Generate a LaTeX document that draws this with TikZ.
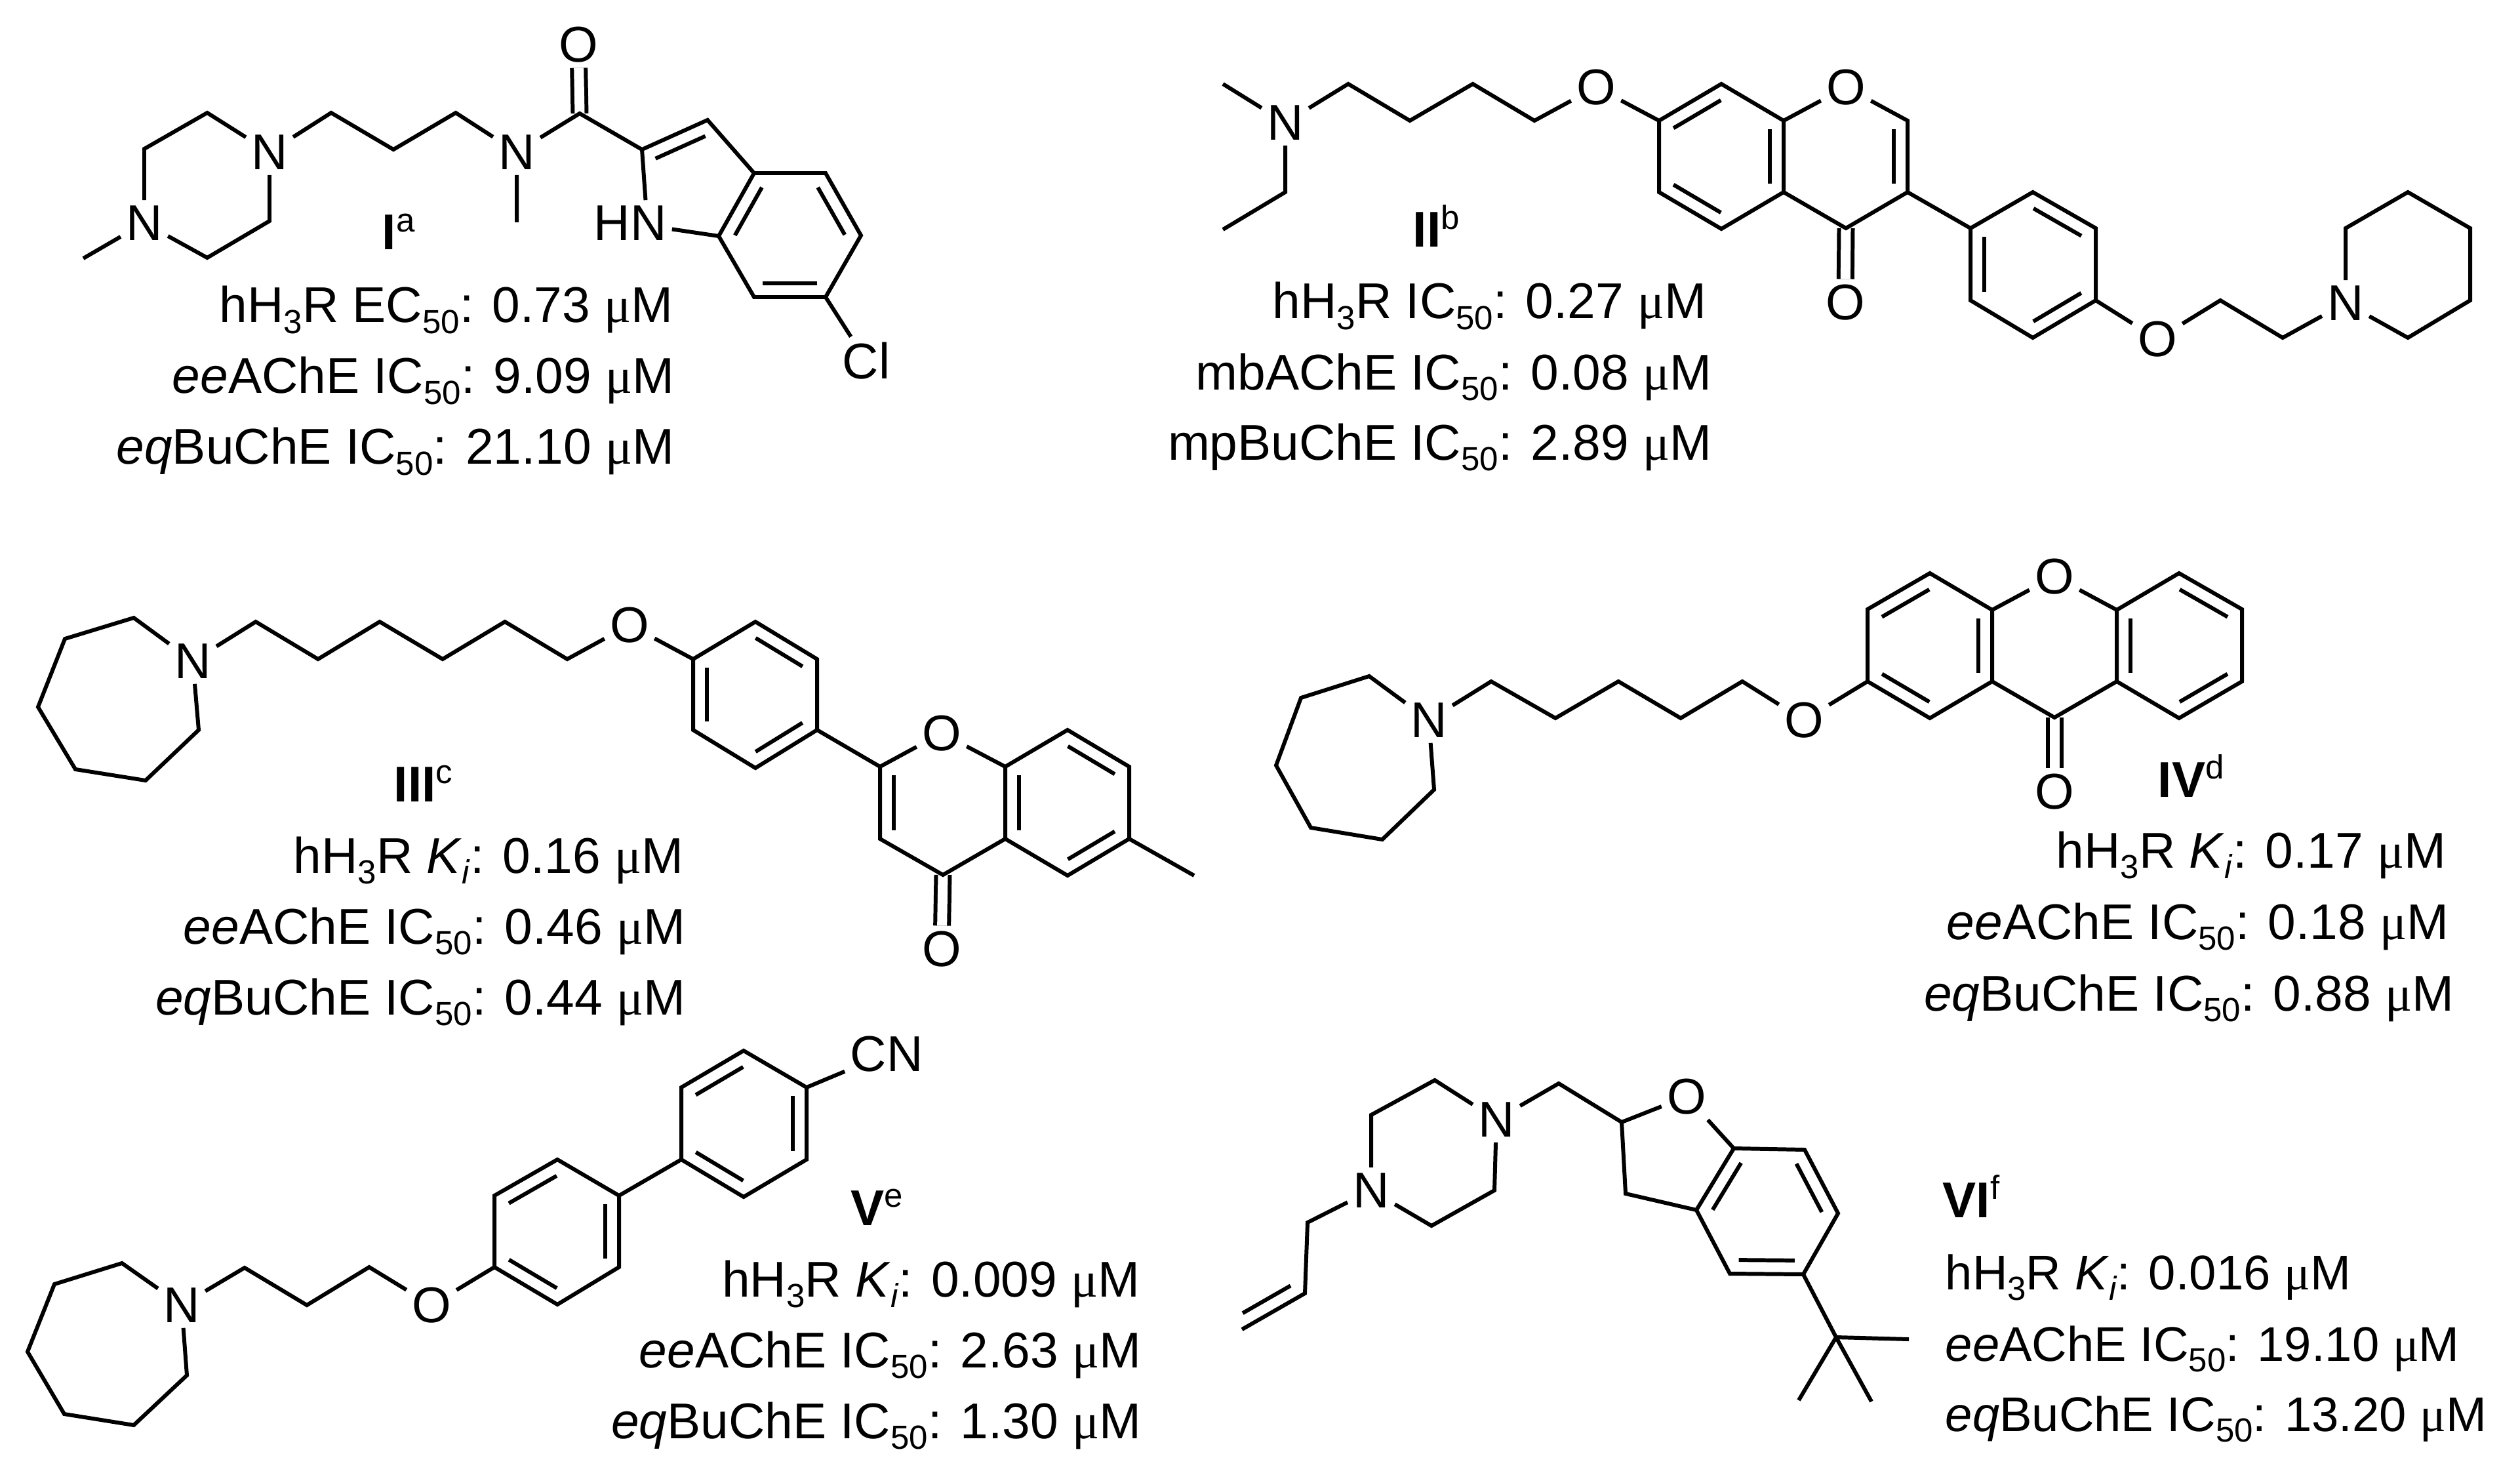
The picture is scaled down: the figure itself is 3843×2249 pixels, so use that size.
\documentclass[tikz,border=0pt]{standalone}
\usepackage{fontspec}
\setmainfont{Liberation Sans}
\newfontfamily\mufont{Liberation Serif}
\usetikzlibrary{calc}

\newcommand{\sbs}[1]{\raisebox{-.22em}{\fontsize{14.5}{14.5}\selectfont #1}}
\newcommand{\sps}[1]{\raisebox{.36em}{\fontsize{14.5}{14.5}\selectfont #1}}
\newcommand{\um}{{\mufont μ}M}
\newcommand{\dbond}[2]{\draw[bond] ($(#1)!.12!(#2)!.21cm!90:(#2)$) -- ($(#2)!.12!(#1)!.21cm!-90:(#1)$);}

\tikzset{
  bond/.style={line width=1.7pt},
  keto/.style={line width=1.7pt,double,double distance=.15cm},
  atom/.style={inner sep=2.2pt,font=\fontsize{21.8}{24}\selectfont},
  data/.style={inner sep=0pt,anchor=base east,font=\fontsize{21.8}{24}\selectfont},
  dataleft/.style={inner sep=0pt,anchor=base west,font=\fontsize{21.1}{24}\selectfont},
  tag/.style={inner sep=0pt,anchor=base west,font=\fontsize{21.8}{24}\selectfont}
}

\begin{document}
\begin{tikzpicture}[x=.01cm,y=-.01cm]
  \useasboundingbox (0,0) rectangle (3843,2249);

  % I
  \node[atom] (an1) at (220,340) {N};
  \node[atom] (an2) at (411,232) {N};
  \node[atom] (an3) at (788,232) {N};
  \node[atom] (ao) at (882,68) {O};
  \node[atom] (ahn) at (961,340) {HN};
  \node[atom] (acl) at (1321,550) {Cl};
  \coordinate (am) at (127,394);
  \coordinate (ar1) at (220,227);
  \coordinate (ar2) at (316,172);
  \coordinate (ar3) at (411,337);
  \coordinate (ar4) at (316,393);
  \coordinate (ac1) at (505,172);
  \coordinate (ac2) at (600,228);
  \coordinate (ac3) at (695,172);
  \coordinate (am2) at (788,339);
  \coordinate (aco) at (884,173);
  \coordinate (ac4) at (979,228);
  \coordinate (ac5) at (1079,183);
  \coordinate (ac6) at (1150,264);
  \coordinate (ac7) at (1259,264);
  \coordinate (ac8) at (1313,359);
  \coordinate (ac9) at (1259,453);
  \coordinate (ac10) at (1150,453);
  \coordinate (ac11) at (1096,360);
  \draw[keto] (aco) -- (ao);
  \draw[bond] (am) -- (an1) -- (ar1) -- (ar2) -- (an2) -- (ar3) -- (ar4) -- (an1)
              (an2) -- (ac1) -- (ac2) -- (ac3) -- (an3) -- (aco) -- (ac4) -- (ac5) -- (ac6) -- (ac7) -- (ac8) -- (ac9) -- (ac10) -- (ac11) -- (ac6)
              (an3) -- (am2)
              (ac4) -- (ahn.56)
              (ac11) -- (ahn)
              (ac9) -- (acl);
  \dbond{ac5}{ac4}
  \dbond{ac6}{ac11}
  \dbond{ac10}{ac9}
  \dbond{ac8}{ac7}
  \node[tag] (atag) at (582,381) {\textbf{I}\sps{a}};
  \node[data] (at1) at (1027,492) {hH\sbs{3}R EC\sbs{50}: 0.73 \um};
  \node[data] (at2) at (1029,600) {\textit{ee}AChE IC\sbs{50}: 9.09 \um};
  \node[data] (at3) at (1029,708) {\textit{eq}BuChE IC\sbs{50}: 21.10 \um};

  % II
  \node[atom] (bn1) at (1960,187) {N};
  \node[atom] (bo1) at (2434,133) {O};
  \node[atom] (bo2) at (2815,133) {O};
  \node[atom] (bo3) at (2814,461) {O};
  \node[atom] (bo4) at (3290,517) {O};
  \node[atom] (bn2) at (3577,462) {N};
  \coordinate (bm) at (1865,128);
  \coordinate (be1) at (1960,293);
  \coordinate (be2) at (1865,350);
  \coordinate (bc1) at (2056,128);
  \coordinate (bc2) at (2150,184);
  \coordinate (bc3) at (2246,128);
  \coordinate (bc4) at (2340,184);
  \coordinate (bc5) at (2530,184);
  \coordinate (bc6) at (2625,128);
  \coordinate (bc7) at (2720,184);
  \coordinate (bc8) at (2720,293);
  \coordinate (bc9) at (2625,349);
  \coordinate (bc10) at (2530,293);
  \coordinate (bc11) at (2909,184);
  \coordinate (bc12) at (2909,293);
  \coordinate (bc13) at (2815,348);
  \coordinate (bp1) at (3005,348);
  \coordinate (bp2) at (3100,293);
  \coordinate (bp3) at (3196,348);
  \coordinate (bp4) at (3196,458);
  \coordinate (bp5) at (3100,515);
  \coordinate (bp6) at (3005,458);
  \coordinate (bc14) at (3386,458);
  \coordinate (bc15) at (3481,515);
  \coordinate (br1) at (3577,348);
  \coordinate (br2) at (3672,293);
  \coordinate (br3) at (3767,348);
  \coordinate (br4) at (3767,458);
  \coordinate (br5) at (3672,515);
  \draw[keto] (bc13) -- (bo3);
  \draw[bond] (bm) -- (bn1) -- (be1) -- (be2)
              (bn1) -- (bc1) -- (bc2) -- (bc3) -- (bc4) -- (bo1) -- (bc5) -- (bc6) -- (bc7) -- (bc8) -- (bc9) -- (bc10) -- (bc5)
              (bc7) -- (bo2) -- (bc11) -- (bc12) -- (bc13) -- (bc8)
              (bc12) -- (bp1) -- (bp2) -- (bp3) -- (bp4) -- (bp5) -- (bp6) -- (bp1)
              (bp4) -- (bo4) -- (bc14) -- (bc15) -- (bn2) -- (br1) -- (br2) -- (br3) -- (br4) -- (br5) -- (bn2);
  \dbond{bc6}{bc5}
  \dbond{bc10}{bc9}
  \dbond{bc8}{bc7}
  \dbond{bc12}{bc11}
  \dbond{bp1}{bp6}
  \dbond{bp5}{bp4}
  \dbond{bp3}{bp2}
  \node[tag] (btag) at (2154,377) {\textbf{II}\sps{b}};
  \node[data] (bt1) at (2603,486) {hH\sbs{3}R IC\sbs{50}: 0.27 \um};
  \node[data] (bt2) at (2611,594) {mbAChE IC\sbs{50}: 0.08 \um};
  \node[data] (bt3) at (2611,701) {mpBuChE IC\sbs{50}: 2.89 \um};

  % III
  \node[atom] (cn) at (294,1008) {N};
  \node[atom] (co1) at (960,953) {O};
  \node[atom] (co2) at (1436,1118) {O};
  \node[atom] (co3) at (1436,1447) {O};
  \coordinate (cr1) at (204,942);
  \coordinate (cr2) at (99,974);
  \coordinate (cr3) at (58,1078);
  \coordinate (cr4) at (115,1173);
  \coordinate (cr5) at (222,1190);
  \coordinate (cr6) at (303,1113);
  \coordinate (cc1) at (390,948);
  \coordinate (cc2) at (485,1005);
  \coordinate (cc3) at (579,948);
  \coordinate (cc4) at (675,1005);
  \coordinate (cc5) at (770,948);
  \coordinate (cc6) at (865,1005);
  \coordinate (cp1) at (1057,1005);
  \coordinate (cp2) at (1152,948);
  \coordinate (cp3) at (1246,1005);
  \coordinate (cp4) at (1246,1113);
  \coordinate (cp5) at (1152,1171);
  \coordinate (cp6) at (1057,1113);
  \coordinate (cc7) at (1342,1169);
  \coordinate (cc8) at (1342,1279);
  \coordinate (cc9) at (1438,1334);
  \coordinate (cc10) at (1533,1279);
  \coordinate (cc11) at (1533,1169);
  \coordinate (cc12) at (1628,1113);
  \coordinate (cc13) at (1722,1169);
  \coordinate (cc14) at (1722,1279);
  \coordinate (cc15) at (1628,1335);
  \coordinate (cm) at (1821,1335);
  \draw[keto] (cc9) -- (co3);
  \draw[bond] (cn) -- (cr1) -- (cr2) -- (cr3) -- (cr4) -- (cr5) -- (cr6) -- (cn)
              (cn) -- (cc1) -- (cc2) -- (cc3) -- (cc4) -- (cc5) -- (cc6) -- (co1) -- (cp1) -- (cp2) -- (cp3) -- (cp4) -- (cp5) -- (cp6) -- (cp1)
              (cp4) -- (cc7) -- (co2) -- (cc11) -- (cc12) -- (cc13) -- (cc14) -- (cc15) -- (cc10) -- (cc11)
              (cc7) -- (cc8) -- (cc9) -- (cc10)
              (cc14) -- (cm);
  \dbond{cp3}{cp2}
  \dbond{cp1}{cp6}
  \dbond{cp5}{cp4}
  \dbond{cc7}{cc8}
  \dbond{cc11}{cc10}
  \dbond{cc13}{cc12}
  \dbond{cc15}{cc14}
  \node[tag] (ctag) at (600,1222) {\textbf{III}\sps{c}};
  \node[data] (ct1) at (1043,1331) {hH\sbs{3}R \textit{K}\sbs{\textit{i}}: 0.16 \um};
  \node[data] (ct2) at (1046,1439) {\textit{ee}AChE IC\sbs{50}: 0.46 \um};
  \node[data] (ct3) at (1046,1547) {\textit{eq}BuChE IC\sbs{50}: 0.44 \um};

  % IV
  \node[atom] (dn) at (2179,1098) {N};
  \node[atom] (do1) at (2751,1098) {O};
  \node[atom] (do2) at (3133,879) {O};
  \node[atom] (do3) at (3133,1207) {O};
  \coordinate (dr1) at (2088,1031);
  \coordinate (dr2) at (1984,1064);
  \coordinate (dr3) at (1946,1167);
  \coordinate (dr4) at (1999,1262);
  \coordinate (dr5) at (2108,1280);
  \coordinate (dr6) at (2187,1204);
  \coordinate (dc1) at (2274,1039);
  \coordinate (dc2) at (2372,1095);
  \coordinate (dc3) at (2468,1039);
  \coordinate (dc4) at (2563,1095);
  \coordinate (dc5) at (2657,1039);
  \coordinate (dc6) at (2848,1039);
  \coordinate (dc7) at (2848,929);
  \coordinate (dc8) at (2943,874);
  \coordinate (dc9) at (3038,930);
  \coordinate (dc10) at (3038,1039);
  \coordinate (dc11) at (2943,1095);
  \coordinate (dc12) at (3133,1094);
  \coordinate (dc13) at (3228,930);
  \coordinate (dc14) at (3323,874);
  \coordinate (dc15) at (3419,929);
  \coordinate (dc16) at (3419,1039);
  \coordinate (dc17) at (3323,1095);
  \coordinate (dc18) at (3228,1039);
  \draw[keto] (dc12) -- (do3);
  \draw[bond] (dn) -- (dr1) -- (dr2) -- (dr3) -- (dr4) -- (dr5) -- (dr6) -- (dn)
              (dn) -- (dc1) -- (dc2) -- (dc3) -- (dc4) -- (dc5) -- (do1) -- (dc6) -- (dc7) -- (dc8) -- (dc9) -- (dc10) -- (dc11) -- (dc6)
              (dc9) -- (do2) -- (dc13) -- (dc14) -- (dc15) -- (dc16) -- (dc17) -- (dc18) -- (dc13)
              (dc10) -- (dc12) -- (dc18);
  \dbond{dc8}{dc7}
  \dbond{dc6}{dc11}
  \dbond{dc10}{dc9}
  \dbond{dc13}{dc18}
  \dbond{dc15}{dc14}
  \dbond{dc17}{dc16}
  \node[tag] (dtag) at (3290,1215) {\textbf{IV}\sps{d}};
  \node[data] (dt1) at (3731,1323) {hH\sbs{3}R \textit{K}\sbs{\textit{i}}: 0.17 \um};
  \node[data] (dt2) at (3735,1432) {\textit{ee}AChE IC\sbs{50}: 0.18 \um};
  \node[data] (dt3) at (3743,1541) {\textit{eq}BuChE IC\sbs{50}: 0.88 \um};

  % V
  \node[atom] (en) at (277,1990) {N};
  \node[atom] (eo) at (658,1990) {O};
  \node[atom] (ecn) at (1352,1607) {CN};
  \coordinate (er1) at (186,1926);
  \coordinate (er2) at (83,1958);
  \coordinate (er3) at (42,2061);
  \coordinate (er4) at (98,2156);
  \coordinate (er5) at (204,2173);
  \coordinate (er6) at (285,2097);
  \coordinate (ec1) at (373,1933);
  \coordinate (ec2) at (468,1990);
  \coordinate (ec3) at (563,1932);
  \coordinate (ep1) at (754,1932);
  \coordinate (ep2) at (754,1823);
  \coordinate (ep3) at (850,1768);
  \coordinate (ep4) at (944,1823);
  \coordinate (ep5) at (944,1932);
  \coordinate (ep6) at (850,1989);
  \coordinate (eq1) at (1039,1768);
  \coordinate (eq2) at (1039,1658);
  \coordinate (eq3) at (1134,1602);
  \coordinate (eq4) at (1230,1658);
  \coordinate (eq5) at (1230,1768);
  \coordinate (eq6) at (1134,1825);
  \draw[bond] (en) -- (er1) -- (er2) -- (er3) -- (er4) -- (er5) -- (er6) -- (en)
              (en) -- (ec1) -- (ec2) -- (ec3) -- (eo) -- (ep1) -- (ep2) -- (ep3) -- (ep4) -- (ep5) -- (ep6) -- (ep1)
              (ep4) -- (eq1) -- (eq2) -- (eq3) -- (eq4) -- (eq5) -- (eq6) -- (eq1)
              (eq4) -- (ecn);
  \dbond{ep3}{ep2}
  \dbond{ep1}{ep6}
  \dbond{ep5}{ep4}
  \dbond{eq3}{eq2}
  \dbond{eq1}{eq6}
  \dbond{eq5}{eq4}
  \node[tag] (etag) at (1297,1868) {\textbf{V}\sps{e}};
  \node[data] (et1) at (1739,1977) {hH\sbs{3}R \textit{K}\sbs{\textit{i}}: 0.009 \um};
  \node[data] (et2) at (1741,2085) {\textit{ee}AChE IC\sbs{50}: 2.63 \um};
  \node[data] (et3) at (1741,2193) {\textit{eq}BuChE IC\sbs{50}: 1.30 \um};

  % VI
  \node[atom] (fn1) at (2091,1815) {N};
  \node[atom] (fn2) at (2282,1707) {N};
  \node[atom] (fo) at (2572,1672) {O};
  \coordinate (fr1) at (2091,1700);
  \coordinate (fr2) at (2188,1647);
  \coordinate (fr3) at (2279,1815);
  \coordinate (fr4) at (2183,1869);
  \coordinate (fc1) at (2377,1652);
  \coordinate (fc2) at (2473,1711);
  \coordinate (fc3) at (2479,1820);
  \coordinate (fb1) at (2644,1751);
  \coordinate (fb2) at (2752,1753);
  \coordinate (fb3) at (2803,1850);
  \coordinate (fb4) at (2750,1943);
  \coordinate (fb5) at (2638,1942);
  \coordinate (fb6) at (2587,1845);
  \coordinate (ft0) at (2800,2039);
  \coordinate (ft1) at (2911,2042);
  \coordinate (ft2) at (2743,2135);
  \coordinate (ft3) at (2854,2137);
  \coordinate (fa1) at (1994,1864);
  \coordinate (fa2) at (1990,1972);
  \coordinate (fa3) at (1894,2027);
  \draw[bond] (fn1) -- (fr1) -- (fr2) -- (fn2) -- (fr3) -- (fr4) -- (fn1)
              (fn2) -- (fc1) -- (fc2) -- (fo) -- (fb1) -- (fb2) -- (fb3) -- (fb4) -- (fb5) -- (fb6) -- (fb1)
              (fc2) -- (fc3) -- (fb6)
              (fb4) -- (ft0) -- (ft1)
              (ft0) -- (ft2)
              (ft0) -- (ft3)
              (fn1) -- (fa1) -- (fa2) -- (fa3);
  \dbond{fb1}{fb6}
  \dbond{fb5}{fb4}
  \dbond{fb3}{fb2}
  \dbond{fa3}{fa2}
  \node[tag] (ftag) at (2962,1856) {\textbf{VI}\sps{f}};
  \node[dataleft] (ft4) at (2966,1966) {hH\sbs{3}R \textit{K}\sbs{\textit{i}}: 0.016 \um};
  \node[dataleft] (ft5) at (2966,2075) {\textit{ee}AChE IC\sbs{50}: 19.10 \um};
  \node[dataleft] (ft6) at (2966,2182) {\textit{eq}BuChE IC\sbs{50}: 13.20 \um};
\end{tikzpicture}
\end{document}
